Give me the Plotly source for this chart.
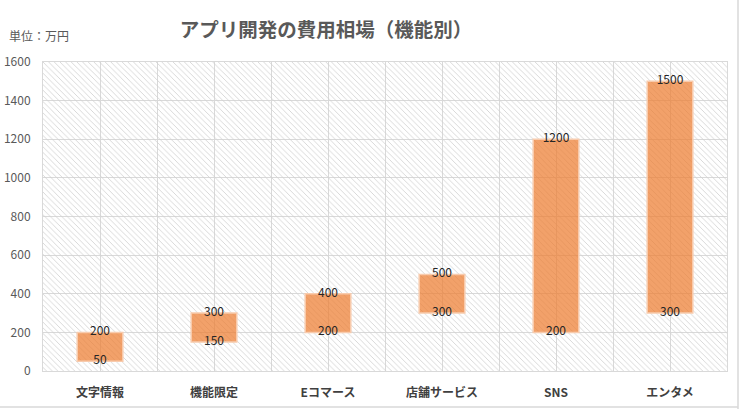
import plotly.graph_objects as go

categories = ["文字情報", "機能限定", "Eコマース", "店舗サービス", "SNS", "エンタメ"]
low_values = [50, 150, 200, 300, 200, 300]
high_values = [200, 300, 400, 500, 1200, 1500]
y_max = 1600
y_step = 200

title_text = "アプリ開発の費用相場（機能別）"
unit_text = "単位：万円"

FONT = "Noto Sans CJK JP"
positions = list(range(len(categories)))
heights = [h - l for h, l in zip(high_values, low_values)]

fig = go.Figure()

# hatched plot background
fig.add_trace(go.Bar(
    x=[(len(categories) - 1) / 2], y=[y_max], base=[0], width=[len(categories)],
    marker=dict(color="rgba(0,0,0,0)", line=dict(width=0),
                pattern=dict(shape="\\", fgcolor="#d0d0d0", bgcolor="rgba(0,0,0,0)",
                             size=4, solidity=0.2, fillmode="replace")),
    hoverinfo="skip", showlegend=False,
))

# floating range bars
fig.add_trace(go.Bar(
    x=positions, y=heights, base=low_values, width=0.4,
    marker=dict(color="rgba(237,125,49,0.72)",
                line=dict(color="rgba(248,203,173,1)", width=1.5)),
    showlegend=False,
))

# value labels
fig.add_trace(go.Scatter(
    x=positions, y=high_values, mode="text", text=[str(v) for v in high_values],
    textposition="middle center", textfont=dict(family=FONT, size=12, color="#262626"),
    showlegend=False, hoverinfo="skip",
))
fig.add_trace(go.Scatter(
    x=positions, y=low_values, mode="text", text=[str(v) for v in low_values],
    textposition="middle center", textfont=dict(family=FONT, size=12, color="#262626"),
    showlegend=False, hoverinfo="skip",
))

grid = "#d9d9d9"
fig.update_layout(
    width=741, height=409,
    margin=dict(l=43, r=14, t=62, b=38),
    paper_bgcolor="white", plot_bgcolor="white",
    barmode="overlay",
    font=dict(family=FONT, color="#595959"),
    title=dict(text="<b>" + title_text + "</b>", x=326 / 741, xanchor="center",
               y=1 - 30 / 409, yanchor="middle", xref="container", yref="container",
               font=dict(family=FONT, size=19.5, color="#595959")),
    xaxis=dict(range=[-0.5, len(categories) - 0.5], tickmode="array",
               tickvals=positions, ticktext=categories, automargin=False,
               showgrid=True, gridcolor=grid, gridwidth=1, zeroline=False,
               showline=True, linecolor=grid, mirror=True,
               ticks="outside", ticklen=11, tickcolor="rgba(0,0,0,0)",
               tickfont=dict(family=FONT, size=12, color="#404040", weight="bold"),
               minor=dict(tickmode="array",
                          tickvals=[p - 0.5 for p in positions] + [positions[-1] + 0.5],
                          showgrid=True, gridcolor=grid, gridwidth=1, ticks="")),
    yaxis=dict(range=[0, y_max], dtick=y_step, tick0=0, automargin=False,
               showgrid=True, gridcolor=grid, gridwidth=1, zeroline=False,
               showline=True, linecolor=grid, mirror=True,
               ticks="outside", ticklen=9, tickcolor="rgba(0,0,0,0)",
               tickfont=dict(family=FONT, size=12, color="#595959")),
    hovermode=False,
    annotations=[dict(text=unit_text, xref="paper", yref="paper",
                      x=(7 - 43) / 684, y=(371 - 36) / 309, xanchor="left", yanchor="middle",
                      showarrow=False, font=dict(family=FONT, size=12, color="#595959"))],
    shapes=[
        dict(type="line", xref="paper", yref="paper", x0=(738 - 43) / 684, x1=(738 - 43) / 684,
             y0=(371 - 409) / 309, y1=(371 - 0) / 309, line=dict(color="#d9d9d9", width=1.5)),
        dict(type="line", xref="paper", yref="paper", x0=(0 - 43) / 684, x1=(738 - 43) / 684,
             y0=(371 - 407) / 309, y1=(371 - 407) / 309, line=dict(color="#d9d9d9", width=1.5)),
    ],
)

fig.write_html("out.html")
